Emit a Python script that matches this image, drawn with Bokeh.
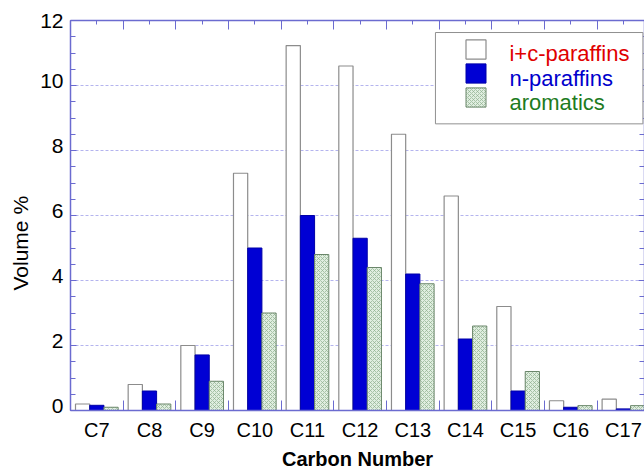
from bokeh.plotting import figure
from bokeh.models import (Range1d, LinearAxis, FixedTicker, SingleIntervalTicker,
                          Legend, LegendItem, BoxAnnotation, Label, Title)
from bokeh.core.properties import value
from bokeh.embed import file_html
from bokeh.resources import INLINE

# ---- data ----
carbon = [7, 8, 9, 10, 11, 12, 13, 14, 15, 16, 17]
tick_labels = ["C7", "C8", "C9", "C10", "C11", "C12", "C13", "C14", "C15", "C16", "C17"]
ic_paraffins = [0.2, 0.8, 2.0, 7.3, 11.23, 10.6, 8.5, 6.6, 3.2, 0.3, 0.35]
n_paraffins = [0.16, 0.6, 1.71, 5.0, 6.0, 5.3, 4.2, 2.2, 0.6, 0.1, 0.05]
aromatics = [0.1, 0.2, 0.9, 3.0, 4.8, 4.4, 3.9, 2.6, 1.2, 0.15, 0.15]
y_ticks = [0, 2, 4, 6, 8, 10, 12]
y_tick_labels = ["0", "2", "4", "6", "8", "10", "12"]
series_names = ["i+c-paraffins", "n-paraffins", "aromatics"]
series_text_colors = ["#e00000", "#0000cc", "#1e7b1e"]

FONT = "Liberation Sans"
AXIS_COLOR = "#6b6bd0"
BAR_W = 0.27
Y_MAX = 12
LABEL_SHIFT = 0.15  # y tick labels sit slightly above their ticks

p = figure(width=644, height=472, output_backend="svg", toolbar_location=None,
           x_range=Range1d(6.5, 17.4), y_range=Range1d(0, Y_MAX),
           min_border_left=69, min_border_top=20, min_border_bottom=58,
           min_border_right=0, x_axis_location=None, y_axis_location=None)
p.background_fill_color = "white"
p.border_fill_color = "white"
p.outline_line_color = None

bar_x_white = [c - BAR_W for c in carbon]
bar_x_blue = list(carbon)
bar_x_green = [c + BAR_W for c in carbon]

r_white = p.vbar(x=bar_x_white, top=ic_paraffins, width=BAR_W, bottom=0,
                 fill_color="white", line_color="#8c8c8c", line_width=1.2)
r_blue = p.vbar(x=bar_x_blue, top=n_paraffins, width=BAR_W, bottom=0,
                fill_color="#0000d4", line_color="#0000a8", line_width=1)
r_green = p.vbar(x=bar_x_green, top=aromatics, width=BAR_W, bottom=0,
                 fill_color="#e0eee0", line_color="#6a866a", line_width=1,
                 hatch_pattern="diagonal_cross", hatch_color="#8fb08f",
                 hatch_scale=4, hatch_weight=0.7)

boundaries = [c - 0.5 for c in carbon] + [carbon[-1] + 0.5]

# bottom axis
xb = LinearAxis(ticker=FixedTicker(ticks=carbon, minor_ticks=boundaries),
                axis_label="Carbon Number")
xb.major_label_overrides = {c: t for c, t in zip(carbon, tick_labels)}
xb.major_tick_in = 0
xb.major_tick_out = 0
xb.minor_tick_in = 10
xb.minor_tick_out = 0
xb.major_label_standoff = 8
xb.axis_label_standoff = 4
xb.major_label_text_font = FONT
xb.major_label_text_font_size = "20px"
xb.major_label_text_color = "black"
xb.axis_label_text_font = FONT
xb.axis_label_text_font_size = "20px"
xb.axis_label_text_font_style = "bold"
xb.axis_label_text_color = "black"
xb.axis_line_color = AXIS_COLOR
xb.axis_line_width = 1.5
xb.minor_tick_line_color = AXIS_COLOR
p.add_layout(xb, "below")

# top axis
xt = LinearAxis(ticker=FixedTicker(ticks=boundaries, minor_ticks=carbon))
xt.major_label_overrides = {b: "" for b in boundaries}
xt.major_label_text_font_size = "0px"
xt.major_label_standoff = 0
xt.major_tick_in = 9
xt.major_tick_out = 0
xt.minor_tick_in = 4
xt.minor_tick_out = 0
xt.axis_line_color = AXIS_COLOR
xt.axis_line_width = 1.5
xt.major_tick_line_color = AXIS_COLOR
xt.minor_tick_line_color = AXIS_COLOR
p.add_layout(xt, "above")

# left axis: line + ticks only (closest to the frame)
yl = LinearAxis(ticker=SingleIntervalTicker(interval=2, num_minor_ticks=4))
yl.major_label_overrides = {v: "" for v in y_ticks}
yl.major_label_text_font_size = "0px"
yl.major_label_standoff = 0
yl.major_tick_in = 6
yl.major_tick_out = 0
yl.minor_tick_in = 5
yl.minor_tick_out = 0
yl.axis_line_color = AXIS_COLOR
yl.axis_line_width = 1.5
yl.major_tick_line_color = AXIS_COLOR
yl.minor_tick_line_color = AXIS_COLOR
p.add_layout(yl, "left")

# left tick labels (raised slightly above their ticks, as in the original;
# the top one cannot go beyond the axis end)
label_ticks = [min(v + LABEL_SHIFT, Y_MAX) for v in y_ticks]
yll = LinearAxis(ticker=FixedTicker(ticks=label_ticks, minor_ticks=[]))
yll.major_label_overrides = {t: s for t, s in zip(label_ticks, y_tick_labels)}
yll.axis_line_color = None
yll.major_tick_line_color = None
yll.minor_tick_line_color = None
yll.major_tick_in = 0
yll.major_tick_out = 0
yll.minor_tick_out = 0
yll.major_label_standoff = 7
yll.major_label_text_font = FONT
yll.major_label_text_font_size = "21px"
yll.major_label_text_color = "black"
p.add_layout(yll, "left")

# y-axis title (a little below the frame centre, as in the original)
ytitle = Title(text="Volume %", align="left", offset=120, standoff=12,
               text_font=FONT, text_font_size="21px", text_font_style="normal",
               text_color="black")
p.add_layout(ytitle, "left")

# right axis
yr = LinearAxis(ticker=SingleIntervalTicker(interval=2, num_minor_ticks=4))
yr.major_label_overrides = {v: "" for v in y_ticks}
yr.major_label_text_font_size = "0px"
yr.major_label_standoff = 0
yr.major_tick_in = 6
yr.major_tick_out = 0
yr.minor_tick_in = 5
yr.minor_tick_out = 0
yr.axis_line_color = AXIS_COLOR
yr.axis_line_width = 1.5
yr.major_tick_line_color = AXIS_COLOR
yr.minor_tick_line_color = AXIS_COLOR
p.add_layout(yr, "right")

p.xgrid.visible = False
p.ygrid.ticker = SingleIntervalTicker(interval=2)
p.ygrid.grid_line_color = "#b4b4ee"
p.ygrid.grid_line_dash = "3 2"
p.ygrid.grid_line_width = 1

# legend frame (data coords)
LEG_LEFT, LEG_RIGHT, LEG_TOP, LEG_BOTTOM = 13.43, 17.37, 11.63, 8.82
box = BoxAnnotation(left=LEG_LEFT, right=LEG_RIGHT, top=LEG_TOP, bottom=LEG_BOTTOM,
                    fill_color="white", fill_alpha=1.0,
                    line_color="#909090", line_width=1, line_alpha=1.0)
p.add_layout(box)

legend = Legend(items=[LegendItem(label=value(""), renderers=[r]) for r in (r_white, r_blue, r_green)],
                location=(393, 301), orientation="vertical",
                padding=0, spacing=0, margin=0,
                glyph_width=25, glyph_height=24,
                label_width=0, label_standoff=0,
                border_line_alpha=0, background_fill_alpha=0)
p.add_layout(legend)

LABEL_X = 14.835
LABEL_Y = [10.98, 10.23, 9.48]
for name, col, yy in zip(series_names, series_text_colors, LABEL_Y):
    p.add_layout(Label(x=LABEL_X, y=yy, text=name, text_color=col,
                       text_font=FONT, text_font_size="22px",
                       text_baseline="middle", text_align="left"))

open("out.html", "w").write(file_html(p, INLINE))
